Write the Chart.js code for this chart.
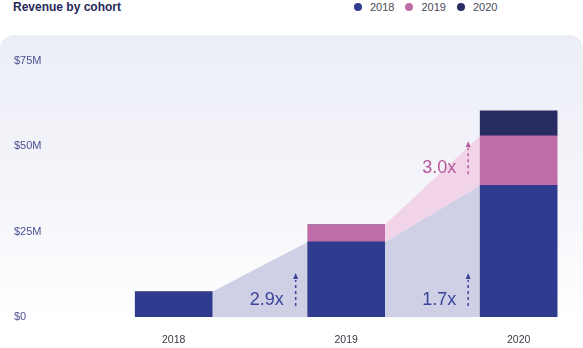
<!DOCTYPE html>
<html>
<head>
<meta charset="utf-8">
<script src="https://cdn.jsdelivr.net/npm/chart.js@4"></script>
<style>
  body { margin: 0; width: 583px; height: 348px; background: #fff; position: relative; overflow: hidden; font-family: "Liberation Sans", Arial, sans-serif; }
  .panel { position: absolute; left: 0; top: 35px; width: 583px; height: 340px; border-radius: 14px;
           background: linear-gradient(#eceef6 0%, #f4f5fa 45%, #ffffff 85%); }
  .title { position: absolute; left: 13px; top: -1px; font-size: 12px; font-weight: bold; color: #26295a; line-height: 16px; }
  .legend { position: absolute; left: 354px; top: 0; height: 14px; display: flex; align-items: center; font-size: 11px; color: #4a4a5a; }
  .legend span { display: flex; align-items: center; margin-right: 11px; }
  .legend i { width: 8px; height: 8px; border-radius: 50%; margin-right: 8px; display: inline-block; }
  canvas { position: absolute; left: 0; top: 0; }
</style>
</head>
<body>
<div class="panel"></div>
<div class="title">Revenue by cohort</div>
<div class="legend" id="legend"></div>
<canvas id="chart" width="583" height="348"></canvas>
<script>
const categories = ["2018", "2019", "2020"];
const cohorts = ["2018", "2019", "2020"];
const cohort2018 = [7.4, 22, 38.6];
const cohort2019 = [0, 5, 14.5];
const cohort2020 = [0, 0, 7.3];
const growth2018 = [null, "2.9x", "1.7x"];
const growth2019 = [null, null, "3.0x"];
const yTicks = [0, 25, 50, 75];

const barColors = ["#2e3b8e", "#c06ca8", "#282c61"];
const areaColors = ["#cfd0e6", "#f1d4e7"];
const noteColors = ["#3a4598", "#b8579c"];

// legend
const legend = document.getElementById("legend");
cohorts.forEach((c, i) => {
    const s = document.createElement("span");
    s.innerHTML = `<i style="background:${barColors[i]}"></i>${c}`;
    legend.appendChild(s);
});

function toPoints(arr) {
    return arr.map((v, i) => ({x: i, y: v}));
}

// shaded growth areas between bars + growth notes
const growthPlugin = {
    id: "growth",
    beforeDatasetsDraw(chart) {
        const ctx = chart.ctx;
        const series = [cohort2018, cohort2019];
        series.forEach((vals, d) => {
            const bars = chart.getDatasetMeta(d).data;
            for (let i = 0; i < vals.length - 1; i++) {
                if (!vals[i] || !vals[i + 1]) continue;
                const a = bars[i], b = bars[i + 1];
                const ax = a.x + a.width / 2, bx = b.x - b.width / 2;
                ctx.save();
                ctx.fillStyle = areaColors[d];
                ctx.beginPath();
                ctx.moveTo(ax, a.y);
                ctx.lineTo(bx, b.y);
                ctx.lineTo(bx, b.base);
                ctx.lineTo(ax, a.base);
                ctx.closePath();
                ctx.fill();
                ctx.restore();
            }
        });
    },
    afterDatasetsDraw(chart) {
        const ctx = chart.ctx;
        [growth2018, growth2019].forEach((notes, d) => {
            const bars = chart.getDatasetMeta(d).data;
            notes.forEach((txt, i) => {
                if (!txt) return;
                const b = bars[i];
                const left = b.x - b.width / 2;
                const base = b.base;
                ctx.save();
                ctx.fillStyle = noteColors[d];
                ctx.strokeStyle = noteColors[d];
                ctx.font = '18px "Liberation Sans", Arial, sans-serif';
                ctx.textAlign = "right";
                ctx.textBaseline = "middle";
                ctx.fillText(txt, left - 24, base - 17);
                const ax = left - 12;
                ctx.lineWidth = 1.5;
                ctx.setLineDash([3, 3]);
                ctx.beginPath();
                ctx.moveTo(ax, base - 11);
                ctx.lineTo(ax, base - 37);
                ctx.stroke();
                ctx.setLineDash([]);
                ctx.beginPath();
                ctx.moveTo(ax, base - 44);
                ctx.lineTo(ax - 2.5, base - 38);
                ctx.lineTo(ax + 2.5, base - 38);
                ctx.closePath();
                ctx.fill();
                ctx.restore();
            });
        });
    }
};

new Chart(document.getElementById("chart"), {
    type: "bar",
    data: {
        datasets: [
            {label: cohorts[0], data: toPoints(cohort2018), backgroundColor: barColors[0]},
            {label: cohorts[1], data: toPoints(cohort2019), backgroundColor: barColors[1]},
            {label: cohorts[2], data: toPoints(cohort2020), backgroundColor: barColors[2]}
        ]
    },
    plugins: [growthPlugin],
    options: {
        responsive: false,
        animation: false,
        barThickness: 77,
        layout: {padding: {top: 61, bottom: 0, left: 0, right: 0}},
        plugins: {legend: {display: false}, tooltip: {enabled: false}},
        scales: {
            x: {
                type: "linear",
                stacked: true,
                offset: false,
                min: -1.007,
                max: 2.373,
                grid: {display: false, drawTicks: false},
                border: {display: false},
                afterBuildTicks: s => { s.ticks = categories.map((c, i) => ({value: i})); },
                afterFit: s => { s.height = 31; },
                ticks: {
                    padding: 17,
                    maxRotation: 0,
                    color: "#3a3a44",
                    font: {size: 10.5, family: '"Liberation Sans", Arial, sans-serif'},
                    callback: v => categories[v]
                }
            },
            y: {
                stacked: true,
                min: 0,
                max: 75,
                grid: {display: false, drawTicks: false},
                border: {display: false},
                afterBuildTicks: s => { s.ticks = yTicks.map(v => ({value: v})); },
                afterFit: s => { s.width = 0; },
                ticks: {
                    mirror: true,
                    padding: 14,
                    color: "#4b5192",
                    font: {size: 11, family: '"Liberation Sans", Arial, sans-serif'},
                    callback: v => v === 0 ? "$0" : "$" + v + "M"
                }
            }
        }
    }
});
</script>
</body>
</html>
